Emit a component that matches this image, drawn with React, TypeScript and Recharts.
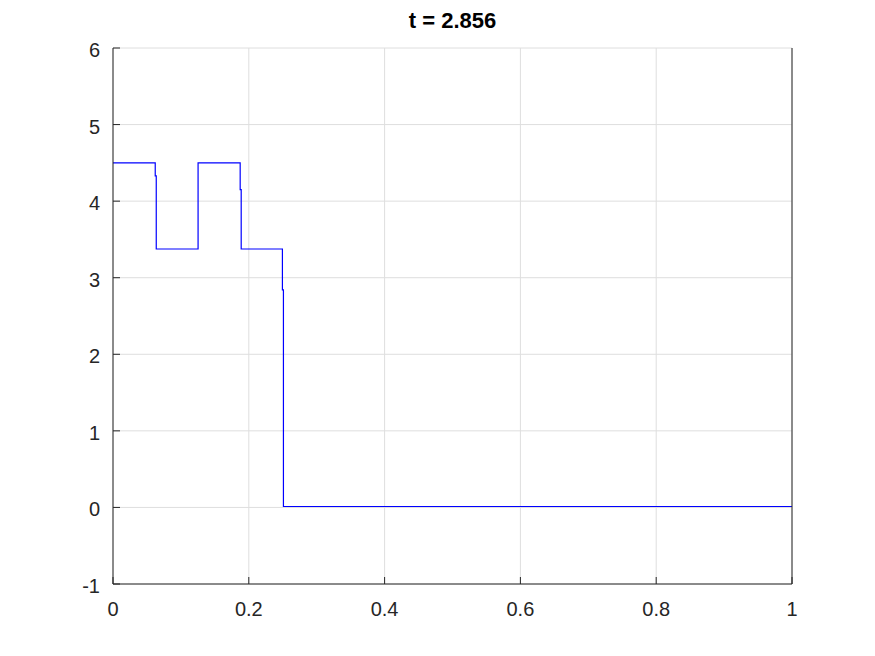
import { LineChart, Line, XAxis, YAxis, CartesianGrid } from "recharts";

// step profile, vertical jumps drawn as pairs of points
const xs = [0, 0.0622, 0.0622, 0.0637, 0.0637, 0.1253, 0.1253, 0.1873, 0.1873, 0.1888, 0.1888, 0.2495, 0.2495, 0.251, 0.251, 1];
const ys = [4.5, 4.5, 4.33, 4.33, 3.375, 3.375, 4.5, 4.5, 4.15, 4.15, 3.375, 3.375, 2.84, 2.84, 0.012, 0.012];

const xTicks = [0, 0.2, 0.4, 0.6, 0.8, 1];
const yTicks = [-1, 0, 1, 2, 3, 4, 5, 6];
const title = "t = 2.856";

const data = xs.map((x, i) => ({ x, y: ys[i] }));

const FONT = "'Liberation Sans', Arial, sans-serif";
const AXIS = "#262626";
const TICK = 7;

const fmt = (v: number) => String(v);

const BottomTick = (p: any) => (
  <g>
    <line x1={p.x} x2={p.x} y1={p.y} y2={p.y - TICK} stroke={AXIS} />
    <text x={p.x} y={p.y + 32} textAnchor="middle" fontSize={20} fontFamily={FONT} fill={AXIS}>
      {fmt(p.payload.value)}
    </text>
  </g>
);

const TopTick = (p: any) => (
  <line x1={p.x} x2={p.x} y1={p.y} y2={p.y + TICK} stroke={AXIS} />
);

const LeftTick = (p: any) => (
  <g>
    <line x1={p.x + 13} x2={p.x + 13 + TICK} y1={p.y} y2={p.y} stroke={AXIS} />
    <text x={p.x} y={p.y + 9} textAnchor="end" fontSize={20} fontFamily={FONT} fill={AXIS}>
      {fmt(p.payload.value)}
    </text>
  </g>
);

const RightTick = (p: any) => (
  <line x1={p.x} x2={p.x - TICK} y1={p.y} y2={p.y} stroke={AXIS} />
);

export default function App() {
  return (
    <div style={{ position: "absolute", left: 0, top: 0, width: 875, height: 656, background: "#fff" }}>
      <div
        style={{
          position: "absolute",
          left: 113,
          width: 679,
          top: 8,
          textAlign: "center",
          fontFamily: FONT,
          fontWeight: "bold",
          fontSize: 22,
          color: "#000",
        }}
      >
        {title}
      </div>
      <LineChart width={875} height={656} data={data} margin={{ top: 48, right: 82, bottom: 0, left: 0 }}>
        <CartesianGrid xAxisId="b" yAxisId="l" stroke="#dedede" strokeWidth={1} />
        <XAxis
          xAxisId="b"
          dataKey="x"
          type="number"
          domain={[0, 1]}
          ticks={xTicks}
          height={72}
          tickSize={0}
          tickMargin={0}
          tick={<BottomTick />}
          axisLine={{ stroke: AXIS }}
          tickLine={false}
          interval={0}
        />
        <XAxis
          xAxisId="t"
          orientation="top"
          dataKey="x"
          type="number"
          domain={[0, 1]}
          ticks={xTicks}
          height={0}
          tickSize={0}
          tickMargin={0}
          tick={<TopTick />}
          axisLine={{ stroke: AXIS }}
          tickLine={false}
          interval={0}
        />
        <YAxis
          yAxisId="l"
          type="number"
          domain={[-1, 6]}
          ticks={yTicks}
          width={113}
          tickSize={0}
          tickMargin={13}
          tick={<LeftTick />}
          axisLine={{ stroke: AXIS }}
          tickLine={false}
          interval={0}
        />
        <YAxis
          yAxisId="r"
          orientation="right"
          type="number"
          domain={[-1, 6]}
          ticks={yTicks}
          width={1}
          tickSize={0}
          tickMargin={0}
          tick={<RightTick />}
          axisLine={{ stroke: AXIS }}
          tickLine={false}
          interval={0}
        />
        <Line
          xAxisId="b"
          yAxisId="l"
          dataKey="y"
          type="linear"
          stroke="#0000ff"
          strokeWidth={1.2}
          dot={false}
          isAnimationActive={false}
        />
      </LineChart>
    </div>
  );
}
